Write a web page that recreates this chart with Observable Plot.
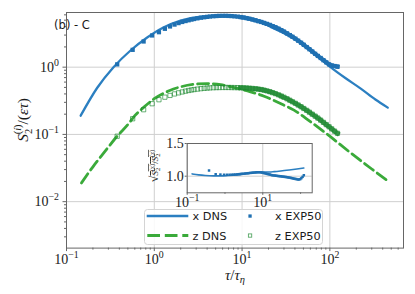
<!DOCTYPE html>
<html><head><meta charset="utf-8">
<script src="https://cdn.jsdelivr.net/npm/d3@7"></script>
<script src="https://cdn.jsdelivr.net/npm/@observablehq/plot@0.6"></script>
<style>
html,body{margin:0;padding:0;background:#fff;}
#wrap{position:relative;width:415px;height:294px;overflow:hidden;background:#fff;}
#wrap > svg{position:absolute;}
</style></head>
<body><div id="wrap"></div>
<script>
// ---------- data ----------
const xDnsTau = [0.145,0.224,0.343,0.536,0.83,1.27,1.99,3.37,6.19,10,15,21,30,46,70,100,150,225,330,457];
const xDnsS2  = [0.19,0.494,1.0,1.77,2.76,3.89,4.94,5.66,5.86,5.6,4.9,4.0,3.2,2.3,1.5,1.02,0.69,0.48,0.33,0.25];
const zDnsTau = [0.148,0.2,0.25,0.3,0.38,0.5,0.6,0.75,1.0,1.5,2.0,3.0,4.0,5.7,8,12.5,17.8,27,39,60,94,173,300,461];
const zDnsS2  = [0.019,0.033,0.048,0.065,0.095,0.14,0.19,0.25,0.34,0.45,0.51,0.56,0.57,0.55,0.5,0.43,0.37,0.29,0.23,0.155,0.1,0.053,0.0306,0.0202];
const expTau = [0.378,0.567,0.756,0.945,1.13,1.32,1.51,1.7,1.89,2.08,2.27,2.46,2.65,2.84,3.1,3.4,3.7,4.0,4.3,4.7,5.1,5.5,6.0,6.5,7.0,7.6,8.2,8.9,9.6,10.4,11.2,12.1,13.1,14.2,15.3,16.5,17.8,19.2,20.7,22.3,24,26,28,30,32.5,35,37.5,40.5,43.5,47,50.5,54.5,58.5,63,68,73,78.5,84.5,91,98,105,113,122];
const xExpS2 = [1.1,1.81,2.41,2.96,3.31,3.72,4.03,4.3,4.52,4.7,4.85,4.98,5.1,5.2,5.32,5.43,5.52,5.6,5.66,5.72,5.76,5.79,5.8,5.8,5.78,5.75,5.7,5.64,5.56,5.47,5.37,5.25,5.12,4.98,4.84,4.7,4.55,4.4,4.25,4.08,3.92,3.73,3.55,3.38,3.18,3.0,2.83,2.65,2.48,2.31,2.15,1.99,1.85,1.71,1.58,1.47,1.37,1.27,1.18,1.1,1.06,1.04,1.02];
const zExpS2 = [0.094,0.171,0.233,0.286,0.328,0.358,0.38,0.40,0.415,0.428,0.44,0.45,0.458,0.465,0.472,0.479,0.485,0.489,0.492,0.495,0.497,0.498,0.499,0.499,0.499,0.498,0.497,0.496,0.494,0.492,0.49,0.487,0.483,0.478,0.472,0.465,0.455,0.444,0.432,0.418,0.404,0.388,0.372,0.357,0.339,0.322,0.306,0.29,0.274,0.258,0.243,0.228,0.214,0.2,0.187,0.175,0.163,0.151,0.14,0.13,0.121,0.112,0.104];
// inset
const insetDnsTau = [0.135,0.2,0.3,0.5,0.8,1.2,2,3,5,7,10,15,20,30,50,80,122];
const insetDnsRatio = [1.035,1.02,1.01,1.005,1.005,1.01,1.02,1.035,1.05,1.06,1.065,1.065,1.07,1.08,1.095,1.11,1.125];
const insetExpRatio = [1.087,1.03,1.025,1.022,1.022,1.022,1.023,1.025,1.026,1.028,1.03,1.032,1.034,1.036,1.038,1.04,1.043,1.045,1.047,1.05,1.052,1.054,1.056,1.058,1.06,1.06,1.06,1.058,1.055,1.05,1.045,1.04,1.035,1.03,1.025,1.02,1.015,1.012,1.01,1.007,1.005,1.002,1.0,0.998,0.995,0.993,0.99,0.988,0.985,0.982,0.978,0.975,0.97,0.966,0.962,0.958,0.955,0.95,0.95,0.955,0.97,0.99,1.015];
// ticks & labels
const xMajor = [0.1,1,10,100];
const yMajor = [0.01,0.1,1];
const insetXMajor = [0.1,10];
const insetXMinor = [1,100];
const insetYMajor = [1.0,1.5];
const legendLabels = ["x DNS","z DNS","x EXP50","z EXP50"];
const panelTitle = "(b) - C";

// ---------- styling ----------
const W = 415, H = 294;
const blueLine = "#2b7fc1", blueMark = "#1f70b2";
const greenLine = "#3aaa3a", greenMark = "#1f8a32";
const serif = "Liberation Serif";

const xDns = xDnsTau.map((t,i)=>({t, v:xDnsS2[i]}));
const zDns = zDnsTau.map((t,i)=>({t, v:zDnsS2[i]}));
const xExp = expTau.map((t,i)=>({t, v:xExpS2[i]}));
const zExp = expTau.map((t,i)=>({t, v:zExpS2[i]}));
const inDns = insetDnsTau.map((t,i)=>({t, v:insetDnsRatio[i]}));
const inExp = expTau.map((t,i)=>({t, v:insetExpRatio[i]}));
const denseFrom = 9; // EXP samples overlap into a solid band beyond this tau

const xDom = [0.1, 690], yDom = [0.00204, 6.5];
const minors = (dom) => { const out=[]; for (let e=-4;e<=3;e++){ for(let k=2;k<=9;k++){ const v=k*Math.pow(10,e); if(v>=dom[0]&&v<=dom[1]) out.push(v);} } return out; };
const xMinor = minors(xDom), yMinor = minors(yDom);
const expFmt = d => "10^" + Math.round(Math.log10(d));

function supify(svg){
  d3.select(svg).selectAll("text").each(function(){
    const m = /^10\^(-?\d+)$/.exec(this.textContent);
    if(!m) return;
    const t = d3.select(this); t.text("");
    t.append("tspan").text("10");
    t.append("tspan").attr("dy","-0.6em").attr("font-size","0.7em").text(m[1].replace("-","\u2212"));
  });
}

const wrap = document.getElementById("wrap");

const main = Plot.plot({
  width: W, height: H,
  marginLeft: 66, marginRight: 12, marginTop: 12, marginBottom: 46.4,
  x: {type:"log", domain: xDom},
  y: {type:"log", domain: yDom},
  style: {fontFamily: serif, fontSize: "14px", color: "#1a1a1a", background: "transparent", overflow: "visible"},
  marks: [
    Plot.gridX(xMajor, {stroke:"#cfcfcf", strokeOpacity:1, strokeWidth:1}),
    Plot.gridY(yMajor, {stroke:"#cfcfcf", strokeOpacity:1, strokeWidth:1}),
    Plot.line(zDns, {x:"t", y:"v", stroke: greenLine, strokeWidth: 2.8, strokeDasharray: "11,4.8", curve:"monotone-x"}),
    Plot.line(xDns, {x:"t", y:"v", stroke: blueLine, strokeWidth: 2.3, curve:"monotone-x"}),
    Plot.line(xExp.filter(d => d.t >= denseFrom), {x:"t", y:"v", stroke: blueMark, strokeWidth: 4.2, strokeLinecap:"square", curve:"monotone-x"}),
    Plot.line(zExp.filter(d => d.t >= denseFrom), {x:"t", y:"v", stroke: greenMark, strokeOpacity:0.9, strokeWidth: 4.6, strokeLinecap:"square", curve:"monotone-x"}),
    Plot.dot(xExp, {x:"t", y:"v", symbol:"square", fill: blueMark, r: 2.4}),
    Plot.dot(zExp, {x:"t", y:"v", symbol:"square", fill:"none", stroke: greenMark, strokeOpacity:0.75, strokeWidth: 0.9, r: 2.4}),
    Plot.frame({stroke:"#666", strokeWidth:1}),
    Plot.axisX(xMajor, {tickFormat: expFmt, tickSize: 3.5, tickPadding: 2.3, stroke:"#666", fill:"#1a1a1a", label:null}),
    Plot.axisX(xMinor, {tickFormat: () => "", tickSize: 2, stroke:"#666", label:null}),
    Plot.axisY(yMajor, {tickFormat: expFmt, tickSize: 3.5, tickPadding: 4, stroke:"#666", fill:"#1a1a1a", label:null}),
    Plot.axisY(yMinor, {tickFormat: () => "", tickSize: 2, stroke:"#666", label:null})
  ]
});
main.style.left = "0px"; main.style.top = "0px";
supify(main);
const ms = d3.select(main);
ms.append("text").attr("x",72).attr("y",28.5).attr("font-family","DejaVu Sans").attr("font-size",11.5).attr("fill","#1a1a1a").text(panelTitle);
// x label
const xl = ms.append("text").attr("x",235).attr("y",280).attr("text-anchor","middle").attr("font-family",serif).attr("font-size",15).attr("fill","#1a1a1a");
xl.append("tspan").attr("font-style","italic").text("τ");
xl.append("tspan").text("/");
xl.append("tspan").attr("font-style","italic").text("τ");
xl.append("tspan").attr("font-style","italic").attr("font-size",10.5).attr("dy",3).text("η");
// y label
const yl = ms.append("text").attr("transform","translate(28,120) rotate(-90)").attr("text-anchor","middle").attr("font-family",serif).attr("font-size",15.5).attr("fill","#1a1a1a");
yl.append("tspan").attr("font-style","italic").text("S");
yl.append("tspan").attr("font-size",10.5).attr("dy",3.5).text("2");
yl.append("tspan").attr("font-size",10.5).attr("dx",-5.5).attr("dy",-10.5).text("(");
yl.append("tspan").attr("font-size",10.5).attr("font-style","italic").text("i");
yl.append("tspan").attr("font-size",10.5).text(")");
yl.append("tspan").attr("dy",7).text("/(");
yl.append("tspan").attr("font-style","italic").text("ετ");
yl.append("tspan").text(")");
wrap.appendChild(main);

// ---------- inset ----------
const IL = 130, IT = 135, IW = 190, IH = 75;
const inset = Plot.plot({
  width: IW, height: IH,
  marginLeft: 56.7, marginRight: 8.3, marginTop: 8, marginBottom: 17.7,
  x: {type:"log", domain:[0.1, 203]},
  y: {domain:[0.746, 1.5]},
  style: {fontFamily: serif, fontSize: "14px", color: "#1a1a1a", background: "transparent", overflow: "visible"},
  marks: [
    Plot.frame({fill:"white", stroke:null}),
    Plot.gridX(insetXMajor, {stroke:"#cfcfcf", strokeOpacity:1}),
    Plot.gridY(insetYMajor, {stroke:"#cfcfcf", strokeOpacity:1}),
    Plot.line(inDns, {x:"t", y:"v", stroke: blueLine, strokeWidth: 1.6, curve:"monotone-x"}),
    Plot.dot(inExp, {x:"t", y:"v", symbol:"square", fill: blueMark, r: 1.4}),
    Plot.frame({stroke:"#666", strokeWidth:1}),
    Plot.axisX(insetXMajor, {tickFormat: expFmt, tickSize: 2.5, tickPadding: 1.5, stroke:"#666", fill:"#1a1a1a", label:null}),
    Plot.axisX(insetXMinor, {tickFormat: () => "", tickSize: 1.5, stroke:"#666", label:null}),
    Plot.axisY(insetYMajor, {tickFormat: d => d.toFixed(1), tickSize: 2, tickPadding: 1.5, stroke:"#666", fill:"#1a1a1a", label:null})
  ]
});
inset.style.left = IL + "px"; inset.style.top = IT + "px";
supify(inset);
const iy = d3.select(inset).append("text").attr("transform","translate(28,31) rotate(-90)").attr("text-anchor","middle").attr("font-family",serif).attr("font-size",9).attr("fill","#1a1a1a");
iy.append("tspan").attr("font-size",12).text("√");
const ov = iy.append("tspan").style("text-decoration","overline");
ov.append("tspan").attr("font-style","italic").text("S");
ov.append("tspan").attr("font-size",6.5).attr("dy",2).text("2");
ov.append("tspan").attr("font-size",6.5).attr("dx",-3.5).attr("dy",-6).text("(x)");
ov.append("tspan").attr("dy",4).text("/");
ov.append("tspan").attr("font-style","italic").text("S");
ov.append("tspan").attr("font-size",6.5).attr("dy",2).text("2");
ov.append("tspan").attr("font-size",6.5).attr("dx",-3.5).attr("dy",-6).text("(z)");
wrap.appendChild(inset);

// ---------- legend ----------
const leg = d3.create("svg").attr("width",W).attr("height",H).style("left","0px").style("top","0px");
leg.append("rect").attr("x",144.5).attr("y",209.5).attr("width",178).attr("height",35).attr("rx",3)
  .attr("fill","white").attr("fill-opacity",0.85).attr("stroke","#d4d4d4");
leg.append("line").attr("x1",146.7).attr("x2",188.3).attr("y1",216).attr("y2",216).attr("stroke",blueLine).attr("stroke-width",2.3);
leg.append("line").attr("x1",147.3).attr("x2",188.3).attr("y1",235.5).attr("y2",235.5).attr("stroke",greenLine).attr("stroke-width",2.8).attr("stroke-dasharray","12.7,4.8");
leg.append("rect").attr("x",248.4).attr("y",214.4).attr("width",3.3).attr("height",3.3).attr("fill",blueMark);
leg.append("rect").attr("x",248.4).attr("y",233.9).attr("width",3.3).attr("height",3.3).attr("fill","none").attr("stroke",greenMark).attr("stroke-opacity",0.75).attr("stroke-width",0.9);
const lt = [[192.5,220,legendLabels[0]],[192.5,239.5,legendLabels[1]],[275,220,legendLabels[2]],[275,239.5,legendLabels[3]]];
lt.forEach(([x,y,s]) => leg.append("text").attr("x",x).attr("y",y).attr("font-family","DejaVu Sans").attr("font-size",11.3).attr("fill","#1a1a1a").text(s));
wrap.appendChild(leg.node());
</script></body></html>
